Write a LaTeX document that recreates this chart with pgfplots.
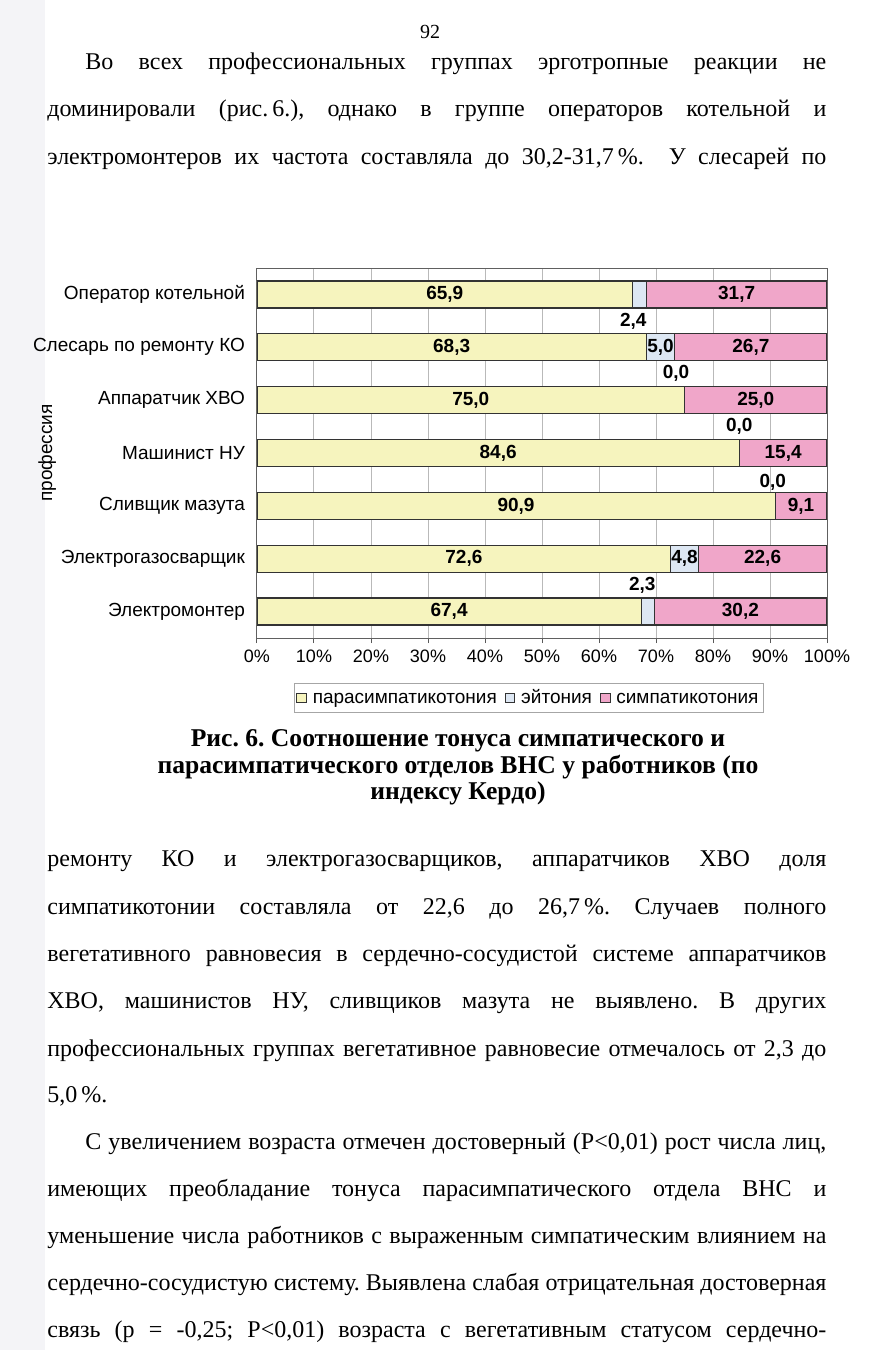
\documentclass[border=0pt]{standalone}
\usepackage{pgfplots}
\usepackage{pgfplotstable}
\pgfplotsset{compat=1.18}
\usepackage{fontspec}
\setmainfont{Liberation Serif}
\setsansfont{Liberation Sans}
\definecolor{cpara}{HTML}{F6F4BE}
\definecolor{ceyt}{HTML}{DDE7F3}
\definecolor{csym}{HTML}{F0A6C9}
\definecolor{cedge}{HTML}{333333}
\definecolor{band}{rgb}{0.955,0.955,0.97}
\newcommand\bodyfont{\fontsize{12}{14}\selectfont}
\newcommand\capfont{\fontsize{12.8}{15}\selectfont\bfseries}
\newcommand\chartfont{\sffamily\fontsize{9.5}{11}\selectfont}
\newcommand\jl[4]{\node[anchor=base west, inner sep=0pt] at (#1,#2) {\bodyfont\makebox[#3][s]{#4}};}

\pgfplotstableread{
y para eyt sym
0 65.9 2.4 31.7
1 68.3 5.0 26.7
2 75.0 0.0 25.0
3 84.6 0.0 15.4
4 90.9 0.0 9.1
5 72.6 4.8 22.6
6 67.4 2.3 30.2
}\datatable

\pgfplotstableread{
x y lab
32.95 0 65,9
34.15 1 68,3
37.5 2 75,0
42.3 3 84,6
45.45 4 90,9
36.3 5 72,6
33.7 6 67,4
70.8 1 5,0
75.0 5 4,8
66.0 0.5 2,4
73.5 1.5 0,0
84.6 2.5 0,0
90.5 3.55 0,0
67.6 5.5 2,3
84.15 0 31,7
86.65 1 26,7
87.5 2 25,0
92.3 3 15,4
95.45 4 9,1
88.7 5 22,6
84.8 6 30,2
}\labtable

\begin{document}
\frenchspacing
\begin{tikzpicture}
\useasboundingbox (0,0) rectangle (434pt,-675pt);
\fill[white] (0,0) rectangle (434pt,-675pt);
\begin{scope}[x=0.5pt,y=-0.5pt]
\fill[band] (0,0) rectangle (45,1350);
\node[font=\fontsize{10}{12}\selectfont] at (430,32) {92};
\jl{85}{69}{370.5pt}{Во всех профессиональных группах эрготропные реакции не}
\jl{47}{116}{389.5pt}{доминировали (рис.\,6.), однако в группе операторов котельной и}
\jl{47}{164}{389.5pt}{электромонтеров их частота составляла до 30,2-31,7\,\%.\ \ У слесарей по}
\node[anchor=base, inner sep=0pt, font=\capfont] at (458,746) {Рис. 6. Соотношение тонуса симпатического и};
\node[anchor=base, inner sep=0pt, font=\capfont] at (458,773) {парасимпатического отделов ВНС у работников (по};
\node[anchor=base, inner sep=0pt, font=\capfont] at (458,799) {индексу Кердо)};
\jl{47}{866}{389.5pt}{ремонту КО и электрогазосварщиков, аппаратчиков ХВО доля}
\jl{47}{914}{389.5pt}{симпатикотонии составляла от 22,6 до 26,7\,\%. Случаев полного}
\jl{47}{961}{389.5pt}{вегетативного равновесия в сердечно-сосудистой системе аппаратчиков}
\jl{47}{1008}{389.5pt}{ХВО, машинистов НУ, сливщиков мазута не выявлено. В других}
\jl{47}{1056}{389.5pt}{профессиональных группах вегетативное равновесие отмечалось от 2,3 до}
\node[anchor=base west, inner sep=0pt, font=\bodyfont] at (47,1102) {5,0\,\%.};
\jl{85}{1149}{370.5pt}{С увеличением возраста отмечен достоверный (Р<0,01) рост числа лиц,}
\jl{47}{1196}{389.5pt}{имеющих преобладание тонуса парасимпатического отдела ВНС и}
\jl{47}{1243}{389.5pt}{уменьшение числа работников с выраженным симпатическим влиянием на}
\jl{47}{1290}{389.5pt}{сердечно-сосудистую систему. Выявлена слабая отрицательная достоверная}
\jl{47}{1337}{389.5pt}{связь (р = -0,25; Р<0,01) возраста с вегетативным статусом сердечно-}
\end{scope}

\begin{axis}[
  at={(128.5pt,-319pt)}, anchor=south west,
  scale only axis, width=285pt, height=185pt,
  xbar stacked, bar width=13.5pt,
  xmin=0, xmax=100, ymin=-0.5, ymax=6.5, y dir=reverse,
  xtick={0,10,...,100},
  xticklabels={0\%,10\%,20\%,30\%,40\%,50\%,60\%,70\%,80\%,90\%,100\%},
  ytick={0,...,6},
  yticklabels={Оператор котельной,Слесарь по ремонту КО,Аппаратчик ХВО,Машинист НУ,Сливщик мазута,Электрогазосварщик,Электромонтер},
  minor ytick={-0.5,0.5,...,6.5},
  ytick style={draw=none},
  minor tick style={draw=gray!70!black, line width=0.5pt},
  major tick style={draw=gray!70!black, line width=0.5pt},
  tick align=outside, xtick pos=bottom, ytick pos=left,
  major tick length=2.5pt, minor tick length=2.5pt,
  xmajorgrids=true, grid style={gray!55, line width=0.5pt},
  axis line style={gray!75!black, line width=0.5pt},
  tick label style={font=\chartfont},
  xticklabel style={font=\sffamily\fontsize{9}{10}\selectfont},
  ylabel={профессия}, ylabel style={font=\chartfont, at={(axis description cs:-0.368,0.5)}, anchor=center},
  legend style={at={(0.477,-0.1216)}, anchor=north, legend columns=3, draw=gray!70, font=\chartfont,
    inner sep=1.2pt, nodes={text height=1.6ex, text depth=0.35ex, inner sep=1.5pt},
    /tikz/every odd column/.append style={column sep=1.5pt},
    /tikz/every even column/.append style={column sep=2.5pt}},
  legend image code/.code={\draw[#1, draw=cedge, line width=0.4pt] (0.5pt,-2.4pt) rectangle (5.3pt,2.4pt);},
]
\addplot[fill=cpara, draw=cedge, line width=0.6pt] table[x=para,y=y]{\datatable};
\addplot[fill=ceyt, draw=cedge, line width=0.6pt] table[x=eyt,y=y]{\datatable};
\addplot[fill=csym, draw=cedge, line width=0.6pt] table[x=sym,y=y]{\datatable};
\legend{парасимпатикотония,эйтония,симпатикотония}
\end{axis}

\begin{axis}[
  at={(128.5pt,-319pt)}, anchor=south west,
  scale only axis, width=285pt, height=185pt,
  xmin=0, xmax=100, ymin=-0.5, ymax=6.5, y dir=reverse,
  hide axis, clip=false]
\addplot[draw=none, mark=none, nodes near coords, point meta=explicit symbolic,
  every node near coord/.append style={anchor=center, font=\chartfont\bfseries, inner sep=0pt}]
  table[x=x,y=y,meta=lab]{\labtable};
\end{axis}
\end{tikzpicture}
\end{document}
